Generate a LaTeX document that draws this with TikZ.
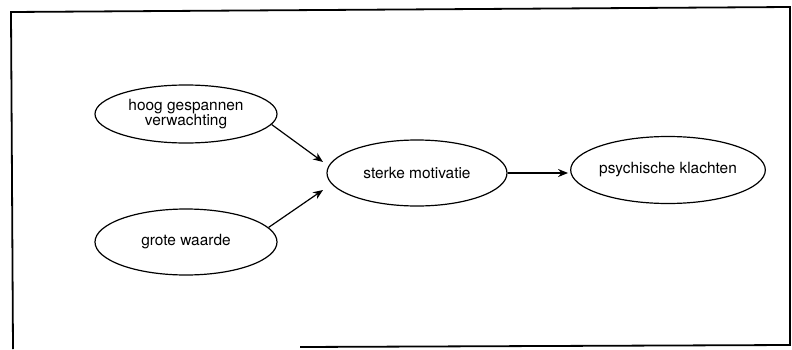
\documentclass[tikz,border=0pt]{standalone}
\usepackage{fontspec}
\setmainfont{TeX Gyre Heros}
\usetikzlibrary{shapes.geometric,arrows.meta}
\begin{document}
\begin{tikzpicture}[x=1bp,y=1bp,
  bubble/.style={ellipse,draw,line width=1.2bp,inner sep=0pt,align=center,
    font=\fontsize{15.5}{15}\selectfont},
  conn/.style={line width=1.2bp,-{Stealth[length=10bp,width=8bp]}},
  frameline/.style={line width=1.8bp}]
\useasboundingbox (0,0) rectangle (792,349);
% frame
\coordinate (fa) at (13,0);
\coordinate (fb) at (11,337);
\coordinate (fc) at (790,342);
\coordinate (fd) at (790,4);
\coordinate (fe) at (300,2);
\draw[frameline] (fa) -- (fb) -- (fc) -- (fd) -- (fe);
% nodes
\node[bubble,minimum width=182bp,minimum height=58bp] (e1) at (186,235) {hoog gespannen\\verwachting};
\node[bubble,minimum width=182bp,minimum height=66bp] (e2) at (186,107) {grote waarde};
\node[bubble,minimum width=180bp,minimum height=66bp] (e3) at (417,176) {sterke motivatie};
\node[bubble,minimum width=181bp,minimum height=67bp] (e4) at (668,179) {psychische klachten};
% arrow targets
\coordinate (t1) at (323,187);
\coordinate (t2) at (323,159);
\draw[conn] (e1.-7) -- (t1);
\draw[conn] (e2.10) -- (t2);
\draw[conn,shorten >=2bp] (e3.east) -- (e3.east -| e4.west);
\end{tikzpicture}
\end{document}
